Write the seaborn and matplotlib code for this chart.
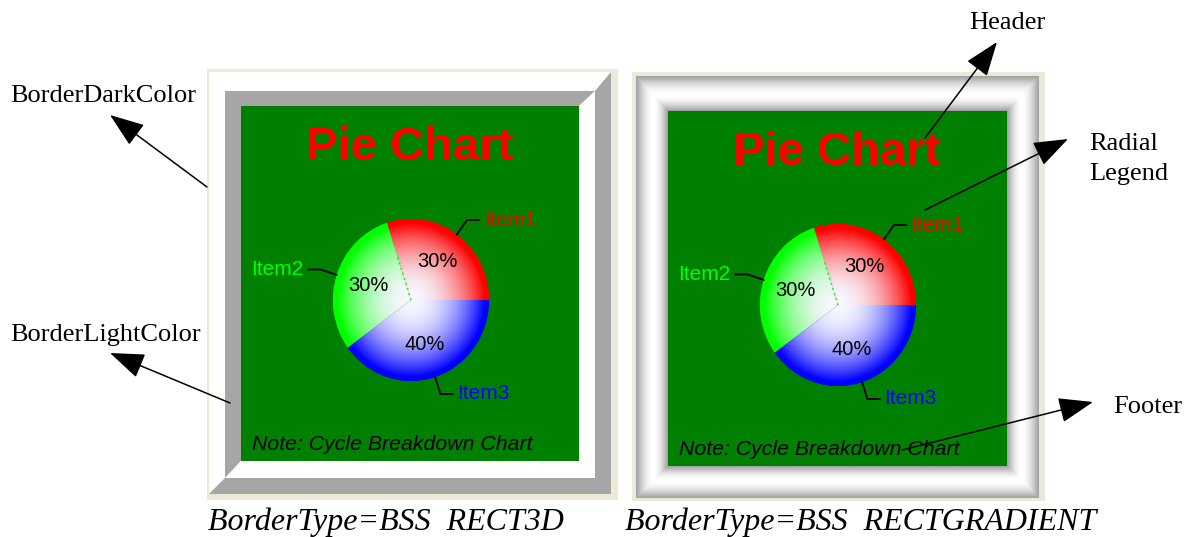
import numpy as np
import matplotlib
matplotlib.use("Agg")
import matplotlib.pyplot as plt
from matplotlib.patches import Rectangle, Polygon
from matplotlib.colors import to_rgb
import seaborn as sns

# ---- chart content -------------------------------------------------------
items = ["Item1", "Item2", "Item3"]
shares = [30, 30, 40]
slice_colors = ["#FF0000", "#00FF00", "#0000FF"]

title_text = "Pie Chart"
footer_text = "Note: Cycle Breakdown Chart"
captions = ["BorderType=BSS  RECT3D", "BorderType=BSS  RECTGRADIENT"]
callout_labels = ["BorderDarkColor", "BorderLightColor", "Header",
                  "Radial", "Legend", "Footer"]

# ---- styling -------------------------------------------------------------
sns.set_theme(style="white")
plt.rcParams["font.family"] = ["Liberation Sans", "DejaVu Sans"]

W, H = 1186, 537
BEIGE = "#ECE9D8"
GRAY = "#A6A6A6"
PANEL_GREEN = "#008000"
SANS = "Liberation Sans"
SERIF = "Liberation Serif"

fig = plt.figure(figsize=(W / 100, H / 100), dpi=100)
fig.patch.set_facecolor("white")


def fig_rect(x0, y0, x1, y1):
    """Pixel box (y downwards) -> figure fraction rect."""
    return [x0 / W, 1 - y1 / H, (x1 - x0) / W, (y1 - y0) / H]


def pixel_axes(zorder):
    ax = fig.add_axes([0, 0, 1, 1], zorder=zorder)
    ax.set_axis_off()
    ax.patch.set_alpha(0)
    return ax


bg = pixel_axes(0)
ov = pixel_axes(10)


def bevel(ax, outer, inner, light_tl, light, dark):
    x0, y0, x1, y1 = outer
    i0, j0, i1, j1 = inner
    tl = [(x0, y0), (x1, y0), (i1, j0), (i0, j0), (i0, j1), (x0, y1)]
    br = [(x1, y0), (x1, y1), (x0, y1), (i0, j1), (i1, j1), (i1, j0)]
    c_tl, c_br = (light, dark) if light_tl else (dark, light)
    ax.add_patch(Polygon(tl, closed=True, facecolor=c_tl, edgecolor="none", zorder=2))
    ax.add_patch(Polygon(br, closed=True, facecolor=c_br, edgecolor="none", zorder=2))


def gradient_frame(ax, outer, inner):
    x0, y0, x1, y1 = outer
    i0, j0, i1, j1 = inner
    xs = np.arange(x0, x1) + 0.5
    ys = np.arange(y0, y1) + 0.5
    X, Y = np.meshgrid(xs, ys)
    t = np.minimum.reduce([(X - x0) / (i0 - x0), (x1 - X) / (x1 - i1),
                           (Y - y0) / (j0 - y0), (y1 - Y) / (y1 - j1)])
    t = np.clip(t, 0, 1)
    peak = 0.55
    u = np.where(t < peak, 0.5 * t / peak, 0.5 + 0.5 * (t - peak) / (1 - peak))
    v = 0.62 + 0.38 * np.sin(np.pi * u)
    img = np.dstack([v, v, v])
    ax.imshow(img, extent=(x0, x1, y1, y0), origin="upper",
              interpolation="bilinear", aspect="auto", zorder=2)


def panel_content(gx, gy):
    # header and footer
    ov.text(gx + 169, gy + 54, title_text, color="#FF0000", fontsize=34,
            fontweight="bold", family=SANS, ha="center", va="baseline")
    ov.text(gx + 11, gy + 344, footer_text, color="black", fontsize=15.3,
            fontstyle="italic", family=SANS, ha="left", va="baseline")

    # pie with radial labels
    cx, cy = gx + 170, gy + 194
    rx, ry = 78, 81
    pax = fig.add_axes(fig_rect(cx - rx, cy - ry, cx + rx, cy + ry), zorder=5)
    pax.patch.set_alpha(0)
    palette = sns.color_palette(slice_colors)
    wedges, _, autotexts = pax.pie(
        shares, colors=palette, startangle=0, counterclock=True, radius=1,
        autopct="%1.0f%%", pctdistance=0.58,
        wedgeprops=dict(linewidth=0),
        textprops=dict(fontsize=14.5, color="black", family=SANS))
    for at in autotexts:
        at.set_zorder(20)

    # radial shading: pale centre fading out to the full slice colour
    n = 400
    g = np.linspace(-1, 1, n)
    X, Y = np.meshgrid(g, g)
    t = np.clip(np.hypot(X, Y) / 0.95, 0, 1) ** 2.0
    centre = np.array([0.97, 0.97, 1.0])
    for w, col in zip(wedges, palette):
        rgb = np.array(to_rgb(col))
        img = (1 - t)[..., None] * centre + t[..., None] * rgb
        im = pax.imshow(img, extent=(-1, 1, -1, 1), origin="lower",
                        interpolation="bilinear", aspect="auto", zorder=3)
        im.set_clip_path(w)

    # dotted seam along the first slice boundary
    a1 = np.deg2rad(wedges[0].theta2)
    pax.plot([0, 0.55 * np.cos(a1)], [0, 0.55 * np.sin(a1)], color=slice_colors[1],
             ls=(0, (1, 2.2)), lw=1.2, zorder=4)

    for w, name, col in zip(wedges, items, slice_colors):
        mid = np.deg2rad((w.theta1 + w.theta2) / 2)
        c, s = np.cos(mid), np.sin(mid)
        side = 1 if c >= 0 else -1
        ex, ey = 1.22 * c, 1.22 * s
        hx = ex + side * 0.16
        pax.plot([c, ex, hx], [s, ey, ey], color="black", lw=1.3,
                 clip_on=False, zorder=6, solid_joinstyle="miter")
        pax.text(hx + side * 0.06, ey, name, color=col, fontsize=15,
                 family=SANS, ha="left" if side > 0 else "right", va="center",
                 clip_on=False, zorder=7)

    pax.set_xlim(-1, 1)
    pax.set_ylim(-1, 1)
    pax.set_aspect("auto")
    pax.set_axis_off()


# ---- left panel: 3D bevel border ----------------------------------------
bg.add_patch(Rectangle((207, 69), 411, 431, facecolor=BEIGE, edgecolor="none", zorder=1))
bevel(bg, (209, 72, 611, 494), (225, 91, 595, 478), True, "white", GRAY)
bevel(bg, (225, 91, 595, 478), (241, 106, 579, 461), False, "white", GRAY)
bg.add_patch(Rectangle((241, 106), 338, 355, facecolor=PANEL_GREEN, edgecolor="none", zorder=3))
panel_content(241, 106)

# ---- right panel: gradient border ---------------------------------------
bg.add_patch(Rectangle((632, 72), 413, 429, facecolor=BEIGE, edgecolor="none", zorder=1))
gradient_frame(bg, (636, 76, 1039, 498), (668, 111, 1007, 466))
bg.add_patch(Rectangle((668, 111), 339, 355, facecolor=PANEL_GREEN, edgecolor="none", zorder=3))
panel_content(668, 111)

# ---- captions under the panels ------------------------------------------
ov.text(208, 530, captions[0], fontsize=23, fontstyle="italic", family=SERIF,
        ha="left", va="baseline", color="black")
ov.text(625, 530, captions[1], fontsize=23, fontstyle="italic", family=SERIF,
        ha="left", va="baseline", color="black")

# ---- callouts -----------------------------------------------------------
callout_pos = [(10, 102), (10, 341), (969, 29), (1089, 150), (1089, 180), (1113, 413)]
for label, (x, y) in zip(callout_labels, callout_pos):
    ov.text(x, y, label, fontsize=19, family=SERIF, ha="left", va="baseline",
            color="black")

arrows = [((207, 187), (110, 115)),
          ((230, 403), (110, 353)),
          ((925, 138), (997, 42)),
          ((925, 210), (1068, 139)),
          ((902, 450), (1093, 402))]
for tail, tip in arrows:
    ov.annotate("", xy=tip, xytext=tail,
                arrowprops=dict(arrowstyle="-|>,head_length=1.5,head_width=0.55",
                                mutation_scale=14.4, color="black", lw=1.1,
                                shrinkA=0, shrinkB=0))

for ax in (bg, ov):
    ax.set_xlim(0, W)
    ax.set_ylim(H, 0)
    ax.set_aspect("auto")

fig.savefig("out.png", dpi=100, facecolor="white")
